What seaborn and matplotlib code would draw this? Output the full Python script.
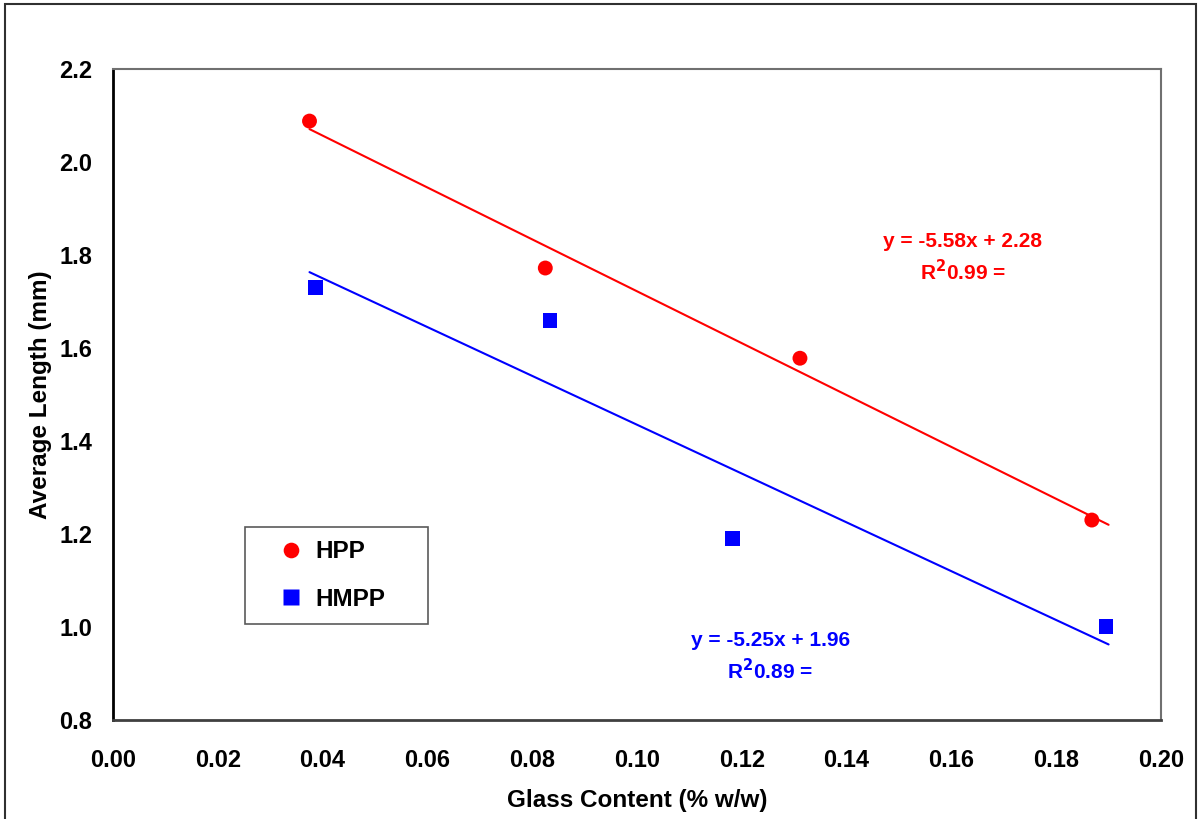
import numpy as np
import pandas as pd
import matplotlib
matplotlib.use("Agg")
import matplotlib.pyplot as plt
from matplotlib.patches import Rectangle
import seaborn as sns

# data
hpp_x = [0.0375, 0.0825, 0.1311, 0.1868]
hpp_y = [2.088, 1.772, 1.578, 1.230]
hmpp_x = [0.0387, 0.0834, 0.1183, 0.1895]
hmpp_y = [1.731, 1.660, 1.191, 1.002]

# trendline coefficients as printed on the chart
fit_range = [0.0375, 0.19]
hpp_fit = (-5.58, 2.28, 0.99)
hmpp_fit = (-5.25, 1.96, 0.89)

series = ["HPP", "HMPP"]
colors = {"HPP": "#ff0000", "HMPP": "#0000ff"}
markers = {"HPP": "o", "HMPP": "s"}

df = pd.concat([
    pd.DataFrame({"x": hpp_x, "y": hpp_y, "series": "HPP"}),
    pd.DataFrame({"x": hmpp_x, "y": hmpp_y, "series": "HMPP"}),
])

fits = {"HPP": hpp_fit, "HMPP": hmpp_fit}
fit_df = pd.concat([
    pd.DataFrame({"x": fit_range,
                  "y": [fits[s][0] * v + fits[s][1] for v in fit_range],
                  "series": s})
    for s in series
])

sns.set_style("white")
plt.rcParams["font.family"] = ["Liberation Sans", "DejaVu Sans"]
plt.rcParams["font.weight"] = "bold"
plt.rcParams["text.color"] = "black"
plt.rcParams["axes.labelcolor"] = "black"

fig = plt.figure(figsize=(11.98, 8.19), dpi=100)
ax = fig.add_axes([113 / 1198, 1 - 720 / 819, 1048 / 1198, 651 / 819])

# outer chart border
fig.patches.append(Rectangle((5 / 1198, -0.01), 1191 / 1198, 1.01 - 4 / 819,
                             transform=fig.transFigure, fill=False,
                             edgecolor="#303030", linewidth=1.5))

sns.lineplot(data=fit_df, x="x", y="y", hue="series", palette=colors,
             linewidth=1.5, legend=False, ax=ax)
sns.scatterplot(data=df, x="x", y="y", hue="series", style="series",
                palette=colors, markers=markers, s=115, edgecolor="none",
                ax=ax, zorder=3)

ax.set_xlim(0, 0.20)
ax.set_ylim(0.8, 2.2)
ax.set_xticks(np.arange(0, 0.201, 0.02))
ax.set_yticks(np.arange(0.8, 2.201, 0.2))
ax.xaxis.set_major_formatter(matplotlib.ticker.FormatStrFormatter("%.2f"))
ax.yaxis.set_major_formatter(matplotlib.ticker.FormatStrFormatter("%.1f"))
ax.tick_params(direction="in", length=8, width=1.2, color="#505050",
               labelsize=17, labelcolor="black")
ax.tick_params(axis="x", pad=21)
ax.tick_params(axis="y", pad=15)
for lab in ax.get_xticklabels() + ax.get_yticklabels():
    lab.set_fontweight("bold")

for side in ["top", "right"]:
    ax.spines[side].set_color("#707070")
    ax.spines[side].set_linewidth(1.5)
ax.spines["bottom"].set_color("#404040")
ax.spines["bottom"].set_linewidth(2)
ax.spines["left"].set_color("black")
ax.spines["left"].set_linewidth(2)

ax.set_xlabel("Glass Content (% w/w)", fontsize=17.5, fontweight="bold", labelpad=12)
ax.set_ylabel("Average Length (mm)", fontsize=17.5, fontweight="bold", labelpad=5)

# trendline equations
ax.text(0.1622, 1.830, f"y = {hpp_fit[0]:.2f}x + {hpp_fit[1]:.2f}",
        color=colors["HPP"], fontsize=15, fontweight="bold", ha="center", va="center")
ax.text(0.1622, 1.765, f"R$^2${hpp_fit[2]:.2f} =",
        color=colors["HPP"], fontsize=15, fontweight="bold", ha="center", va="center")
ax.text(0.1254, 0.972, f"y = {hmpp_fit[0]:.2f}x + {hmpp_fit[1]:.2f}",
        color=colors["HMPP"], fontsize=15, fontweight="bold", ha="center", va="center")
ax.text(0.1254, 0.907, f"R$^2${hmpp_fit[2]:.2f} =",
        color=colors["HMPP"], fontsize=15, fontweight="bold", ha="center", va="center")

leg = ax.legend(loc="lower left", bbox_to_anchor=(0.126, 0.147, 0.175, 0.152),
                mode="expand", borderaxespad=0, frameon=True, fancybox=False,
                prop={"size": 17.5, "weight": "bold"},
                handlelength=2.67, handletextpad=-0.35, labelspacing=1.0,
                borderpad=0.56, markerscale=1.05, title=None)
leg.get_frame().set_edgecolor("#303030")
leg.get_frame().set_linewidth(1.2)

fig.savefig("out.png", dpi=100)
